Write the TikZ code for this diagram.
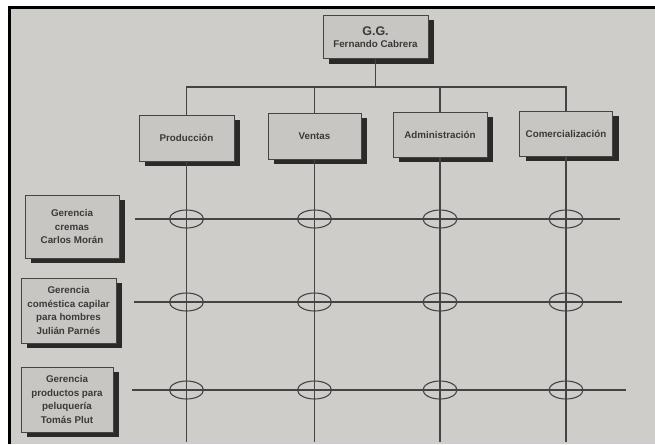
\documentclass[tikz,border=0pt]{standalone}
\usepackage{fontspec}
\setmainfont{Liberation Sans}
\setsansfont{Liberation Sans}
\usetikzlibrary{shapes.geometric,shadows}

\definecolor{page}{RGB}{206,205,201}
\definecolor{boxfill}{RGB}{199,198,194}
\definecolor{ink}{RGB}{58,58,58}
\definecolor{rule}{RGB}{68,68,68}
\definecolor{shade}{RGB}{44,41,41}

\tikzset{
  unitbox/.style={draw=rule, line width=0.8pt, fill=boxfill, align=center,
    text=ink, font=\sffamily\bfseries\fontsize{9.8}{13.5}\selectfont,
    inner sep=0pt,
    drop shadow={shadow xshift=6pt, shadow yshift=-5pt, fill=shade, opacity=1}},
  link/.style={draw=rule, line width=1.1pt},
  crossing/.style={ellipse, draw=rule, line width=1.1pt, minimum width=34pt,
    minimum height=18pt, inner sep=0pt},
}

\begin{document}
\begin{tikzpicture}[x=1pt, y=-1pt]
  % sheet and frame
  \fill[white] (0,0) rectangle (655,444);
  \fill[page] (8,6) rectangle (655,444);
  \useasboundingbox (0,0) rectangle (655,444);
  \draw[black, line width=3pt] (9.5,444) -- (9.5,7.5) -- (655,7.5);

  % top of the hierarchy
  \node[unitbox, minimum width=105pt, minimum height=43pt] (gg) at (375.5,37)
    {{\fontsize{12.5}{14}\selectfont G.G.}\\[-1pt]Fernando Cabrera};

  % functional areas
  \node[unitbox, minimum width=95pt, minimum height=46pt] (prod) at (186.5,138) {Producción};
  \node[unitbox, minimum width=93pt, minimum height=46pt] (vent) at (314.5,136) {Ventas};
  \node[unitbox, minimum width=94pt, minimum height=45pt] (adm)  at (440,134.5) {Administración};
  \node[unitbox, minimum width=93pt, minimum height=45pt] (com)  at (566,133.5) {Comercialización};

  % product managements
  \node[unitbox, minimum width=94pt, minimum height=63pt] (r1) at (72,226.5)
    {Gerencia\\cremas\\Carlos Morán};
  \node[unitbox, minimum width=95pt, minimum height=65pt] (r2) at (68.5,310.5)
    {Gerencia\\coméstica capilar\\para hombres\\Julián Parnés};
  \node[unitbox, minimum width=92pt, minimum height=65pt] (r3) at (67,399.5)
    {Gerencia\\productos para\\peluquería\\Tomás Plut};

  % reporting bus
  \coordinate (bus) at (375.5,87);
  \coordinate (bottom) at (375.5,442);
  \path[link] (gg.south) -- (bus);
  \path[link] (prod.north) |- (bus) -| (com.north);
  \path[link] (vent.north) -- (vent.north |- bus);
  \path[link] (adm.north) -- (adm.north |- bus);

  % matrix columns
  \foreach \c in {prod,vent,adm,com}
    \path[link] (\c.south) -- (\c.south |- bottom);

  % matrix rows
  \coordinate (a1) at (135,219);  \coordinate (b1) at (620,219);
  \coordinate (a2) at (134,302);  \coordinate (b2) at (622,302);
  \coordinate (a3) at (132,390);  \coordinate (b3) at (626,390);
  \foreach \r in {1,2,3}
    \path[link] (a\r) -- (b\r);

  % crossings
  \foreach \r in {1,2,3}
    \foreach \c in {prod,vent,adm,com}
      \node[crossing] (\c-\r) at (\c.south |- a\r) {};
\end{tikzpicture}
\end{document}
